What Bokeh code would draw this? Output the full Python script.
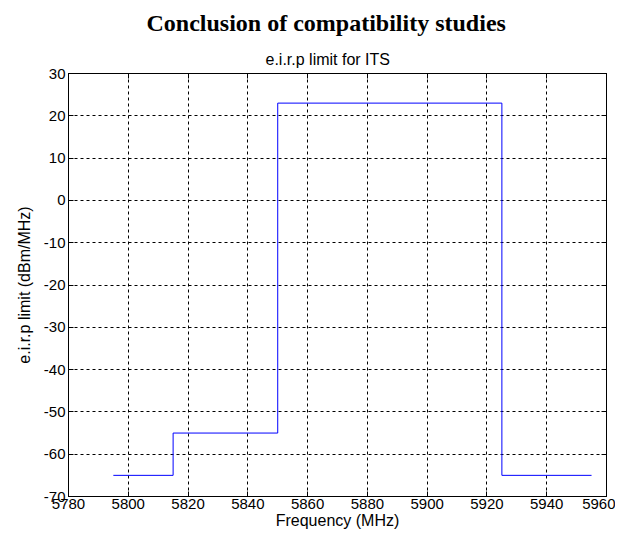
from bokeh.plotting import figure
from bokeh.models import LinearAxis, Title, Range1d, FixedTicker, CustomJSTickFormatter
from bokeh.embed import file_html
from bokeh.resources import INLINE

# Data: band edges (MHz) and e.i.r.p limit (dBm/MHz) on each band
band_edges = [5795, 5815, 5850, 5925, 5955]
band_limits = [-65, -55, 23, -65]
x_ticks = [5780, 5800, 5820, 5840, 5860, 5880, 5900, 5920, 5940, 5960]
y_ticks = [-70, -60, -50, -40, -30, -20, -10, 0, 10, 20, 30]

# build step line from band data
xs, ys = [], []
for i, lim in enumerate(band_limits):
    xs += [band_edges[i], band_edges[i + 1]]
    ys += [lim, lim]

SANS = "Liberation Sans"
FS = "15px"
FL = "16px"

p = figure(width=615, height=536, x_range=Range1d(5780, 5960), y_range=Range1d(-70, 30),
           output_backend="svg", toolbar_location=None, title=None,
           min_border_left=68, min_border_right=9, min_border_top=72, min_border_bottom=40)

p.line(xs, ys, line_color="#0000ff", line_width=1)

p.outline_line_color = "black"
p.background_fill_color = "white"
p.border_fill_color = "white"

plain = CustomJSTickFormatter(code="return tick.toString();")
for ax in (p.xaxis[0], p.yaxis[0]):
    ax.major_tick_in = 5
    ax.major_tick_out = 0
    ax.minor_tick_line_color = None
    ax.axis_line_color = "black"
    ax.major_tick_line_color = "black"
    ax.major_label_text_font = SANS
    ax.major_label_text_font_size = FS
    ax.major_label_text_color = "black"
    ax.axis_label_text_font = SANS
    ax.axis_label_text_font_size = FL
    ax.axis_label_text_font_style = "normal"
    ax.axis_label_text_color = "black"
    ax.major_label_standoff = 3
    ax.formatter = plain

p.xaxis[0].ticker = FixedTicker(ticks=x_ticks)
p.yaxis[0].ticker = FixedTicker(ticks=y_ticks)
p.xaxis[0].axis_label = "Frequency (MHz)"
p.yaxis[0].axis_label = "e.i.r.p limit (dBm/MHz)"
p.xaxis[0].major_label_standoff = 2
p.xaxis[0].axis_label_standoff = 0
p.yaxis[0].axis_label_standoff = 8

blank = CustomJSTickFormatter(code="return '';")
top_ax = LinearAxis(ticker=FixedTicker(ticks=x_ticks), formatter=blank, major_tick_in=5,
                    major_tick_out=0, minor_tick_line_color=None, major_label_standoff=0,
                    major_label_text_font_size="1px")
right_ax = LinearAxis(ticker=FixedTicker(ticks=y_ticks), formatter=blank, major_tick_in=5,
                      major_tick_out=0, minor_tick_line_color=None, major_label_standoff=0,
                      major_label_text_font_size="1px")
p.add_layout(top_ax, "above")
p.add_layout(right_ax, "right")

p.grid.grid_line_color = "black"
p.grid.grid_line_dash = "3 3"
p.grid.grid_line_alpha = 1.0
p.xgrid.ticker = FixedTicker(ticks=x_ticks)
p.ygrid.ticker = FixedTicker(ticks=y_ticks)

sub = Title(text="e.i.r.p limit for ITS", text_font=SANS, text_font_size=FL,
            text_font_style="normal", text_color="black", align="left", standoff=11,
            offset=197)
main = Title(text="Conclusion of compatibility studies", text_font="Liberation Serif",
             text_font_size="24px", text_font_style="bold", text_color="black",
             align="left", standoff=15, offset=78)
p.add_layout(sub, "above")
p.add_layout(main, "above")

open("out.html", "w").write(file_html(p, INLINE))
